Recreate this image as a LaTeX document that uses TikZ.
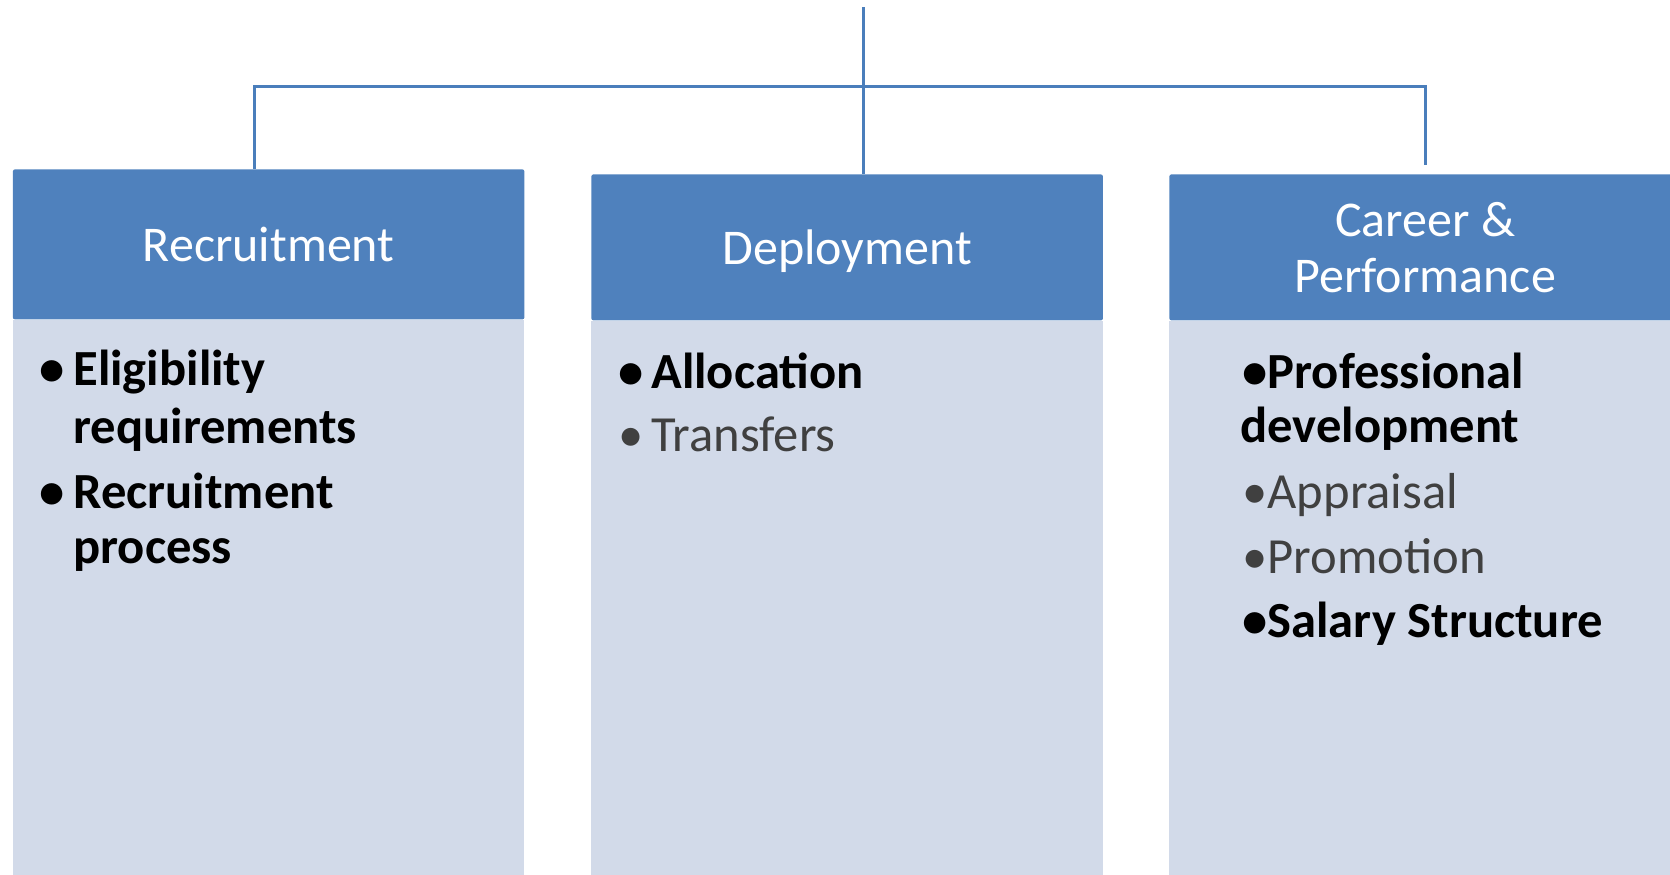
\documentclass[tikz,border=0pt]{standalone}
\usepackage{fontspec}
\setmainfont{Carlito}
\usetikzlibrary{positioning}

\definecolor{hdblue}{HTML}{4F81BD}
\definecolor{bodyblue}{HTML}{D2DAE9}
\definecolor{linkblue}{HTML}{4A7EBB}
\definecolor{softgrey}{HTML}{404040}

\tikzset{
  head/.style={fill=hdblue, rounded corners=1pt, anchor=north west, inner sep=0pt,
    minimum width=255.75pt, text=white, align=center, text depth=0pt,
    font=\fontsize{25}{28}\selectfont},
  body/.style={fill=bodyblue, anchor=north west, inner sep=0pt,
    minimum width=255.75pt, minimum height=300pt},
  item/.style={anchor=base west, inner sep=0pt, font=\fontsize{25.3}{28.5}\selectfont\bfseries},
  minor/.style={item, text=softgrey, font=\fontsize{25.3}{28.5}\selectfont},
  link/.style={draw=linkblue, line width=1.5pt},
}

\begin{document}
\begin{tikzpicture}[x=0.5pt,y=-0.5pt]
\clip (0,0) rectangle (1670,874);

% headers
\node[head, minimum height=75pt] (hdrec) at (12.5,169) {Recruitment};
\node[head, minimum height=73pt] (hddep) at (591,174) {Deployment};
\node[head, minimum height=73pt] (hdcar) at (1169,174) {Career \&\\Performance};

% bodies
\node[body, below=0pt of hdrec.south west, anchor=north west] (bdrec) {};
\node[body, below=0pt of hddep.south west, anchor=north west] (bddep) {};
\node[body, below=0pt of hdcar.south west, anchor=north west] (bdcar) {};

% connectors
\coordinate (top) at (863.6,7);
\coordinate (lft) at (254,86.5);
\coordinate (rgt) at (1425,86.5);
\coordinate (rgtend) at (1425,165);
\draw[link] (top) -- (top |- hddep.north);
\draw[link] (lft |- hdrec.north) -- (lft) -- (rgt) -- (rgtend);

% recruitment items
\node[item] (b1) at (39,385) {•};
\node[item] (elig) at (73,385) {Eligibility};
\node[item] (req) at (73,443) {requirements};
\node[item] (b2) at (39,508) {•};
\node[item] (recp) at (73,508) {Recruitment};
\node[item] (proc) at (73,563) {process};

% deployment items
\node[item] (b3) at (618,388) {•};
\node[item] (alloc) at (651,388) {Allocation};
\node[minor] (b4) at (618,451) {•};
\node[minor] (trans) at (651,451) {Transfers};

% career items
\node[item] (prof) at (1242,388) {•Professional};
\node[item] (devel) at (1240,442) {development};
\node[minor] (appr) at (1242,508) {•Appraisal};
\node[minor] (promo) at (1242,573) {•Promotion};
\node[item] (salary) at (1242,637) {•Salary Structure};
\end{tikzpicture}
\end{document}
